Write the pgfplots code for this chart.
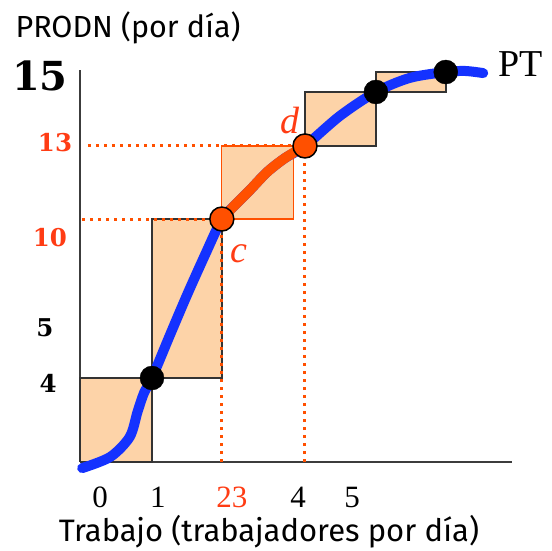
\documentclass[border=0pt]{standalone}
\usepackage{fontspec}
\setmainfont{Liberation Serif}
\newfontfamily\sansf{Fira Sans}
\newfontfamily\dserif{DejaVu Serif}
\usepackage{pgfplots}
\pgfplotsset{compat=1.18}
\definecolor{peach}{RGB}{253,211,168}
\definecolor{pblue}{RGB}{20,50,255}
\definecolor{porange}{RGB}{255,80,0}
\definecolor{ptext}{RGB}{255,60,20}
\definecolor{axgray}{RGB}{60,60,60}
\begin{document}
\begin{tikzpicture}
\begin{axis}[
  scale only axis, width=432pt, height=392pt,
  xmin=0, xmax=6, ymin=0, ymax=18.667,
  axis lines=left,
  axis line style={-, axgray, line width=2pt},
  xtick=\empty, ytick=\empty,
  clip=false,
]
\coordinate (O) at (axis cs:0,0);
% boxes
\addplot[fill=peach, draw=black!80, line width=1.5pt] coordinates {(0,0) (1,0) (1,4) (0,4) (0,0)};
\addplot[fill=peach, draw=black!80, line width=1.5pt] coordinates {(1,4) (1.97,4) (1.97,11.57) (1,11.57) (1,4)};
\addplot[fill=peach, draw=porange, line width=1.2pt] coordinates {(1.97,11.57) (2.96,11.57) (2.96,15.05) (1.97,15.05) (1.97,11.57)};
\addplot[fill=peach, draw=black!80, line width=1.5pt] coordinates {(3.125,15.05) (4.11,15.05) (4.11,17.62) (3.125,17.62) (3.125,15.05)};
\addplot[fill=peach, draw=black!80, line width=1.5pt] coordinates {(4.11,17.62) (5.08,17.62) (5.08,18.57) (4.11,18.57) (4.11,17.62)};
% dotted guides
\addplot[porange, line width=3pt, dash pattern=on 3pt off 5pt] coordinates {(0.11,15.05) (3.125,15.05)};
\addplot[porange, line width=3pt, dash pattern=on 3pt off 5pt] coordinates {(0.03,11.57) (1.97,11.57)};
\addplot[porange, line width=3pt, dash pattern=on 3pt off 5pt] coordinates {(1.97,0) (1.97,11.57)};
\addplot[porange, line width=3pt, dash pattern=on 3pt off 5pt] coordinates {(3.125,0) (3.125,15.05)};
% PT curve
\addplot[pblue, line width=10pt, line cap=round, smooth, tension=0.5] coordinates {
(0.03,-0.29) (0.42,0.24) (0.69,1.19) (0.8,2.4) (0.89,3.3) (1.0,4.0) (1.25,6.05) (1.486,7.95) (1.736,9.86) (1.97,11.57)
(2.125,12.14) (2.36,12.95) (2.6,13.81) (2.85,14.48) (3.125,15.05)
(3.61,16.48) (4.11,17.62) (4.58,18.29) (5.08,18.57) (5.35,18.62) (5.6,18.52)};
\addplot[porange, line width=10pt, line cap=round, smooth, tension=0.5] coordinates {
(1.97,11.57) (2.125,12.14) (2.36,12.95) (2.6,13.81) (2.85,14.48) (3.125,15.05)};
% points
\addplot[only marks, mark=*, mark size=12pt, black] coordinates {(1,4) (4.11,17.62) (5.08,18.57)};
\addplot[only marks, mark=*, mark size=12pt, mark options={fill=porange, draw=black, line width=1.5pt}] coordinates {(1.97,11.57) (3.125,15.05)};
% texts
\node[anchor=west, font=\sansf\fontsize{30.5}{33}\selectfont] at (axis cs:-0.944,20.667) {PRODN (por día)};
\node[font=\sansf\fontsize{31}{34}\selectfont] at (axis cs:2.625,-3.33) {Trabajo (trabajadores por día)};
\node[anchor=west, font=\fontsize{38}{40}\selectfont] at (axis cs:5.764,18.95) {PT};
\node[font=\dserif\fontsize{40}{44}\selectfont\bfseries] at (axis cs:-0.556,18.38) {15};
\node[font=\dserif\fontsize{24.5}{28}\selectfont\bfseries, text=ptext] at (axis cs:-0.347,15.19) {13};
\node[font=\dserif\fontsize{24.5}{28}\selectfont\bfseries, text=ptext] at (axis cs:-0.417,10.67) {10};
\node[font=\dserif\fontsize{24.5}{28}\selectfont\bfseries] at (axis cs:-0.486,6.38) {5};
\node[font=\dserif\fontsize{24.5}{28}\selectfont\bfseries] at (axis cs:-0.444,3.76) {4};
\node[font=\fontsize{31}{34}\selectfont] at (axis cs:0.278,-1.667) {0};
\node[font=\fontsize{31}{34}\selectfont] at (axis cs:1.083,-1.667) {1};
\node[font=\fontsize{31}{34}\selectfont, text=ptext] at (axis cs:2.111,-1.667) {23};
\node[font=\fontsize{31}{34}\selectfont] at (axis cs:3.028,-1.667) {4};
\node[font=\fontsize{31}{34}\selectfont] at (axis cs:3.778,-1.667) {5};
\node[font=\fontsize{38}{40}\selectfont\itshape, text=ptext] at (axis cs:2.21,9.9) {c};
\node[font=\fontsize{38}{40}\selectfont\itshape, text=ptext] at (axis cs:2.92,16.24) {d};
\end{axis}
\pgfresetboundingbox
\path[use as bounding box] (O) ++(-80pt,-89pt) rectangle ++(551pt,551pt);
\end{tikzpicture}
\end{document}
